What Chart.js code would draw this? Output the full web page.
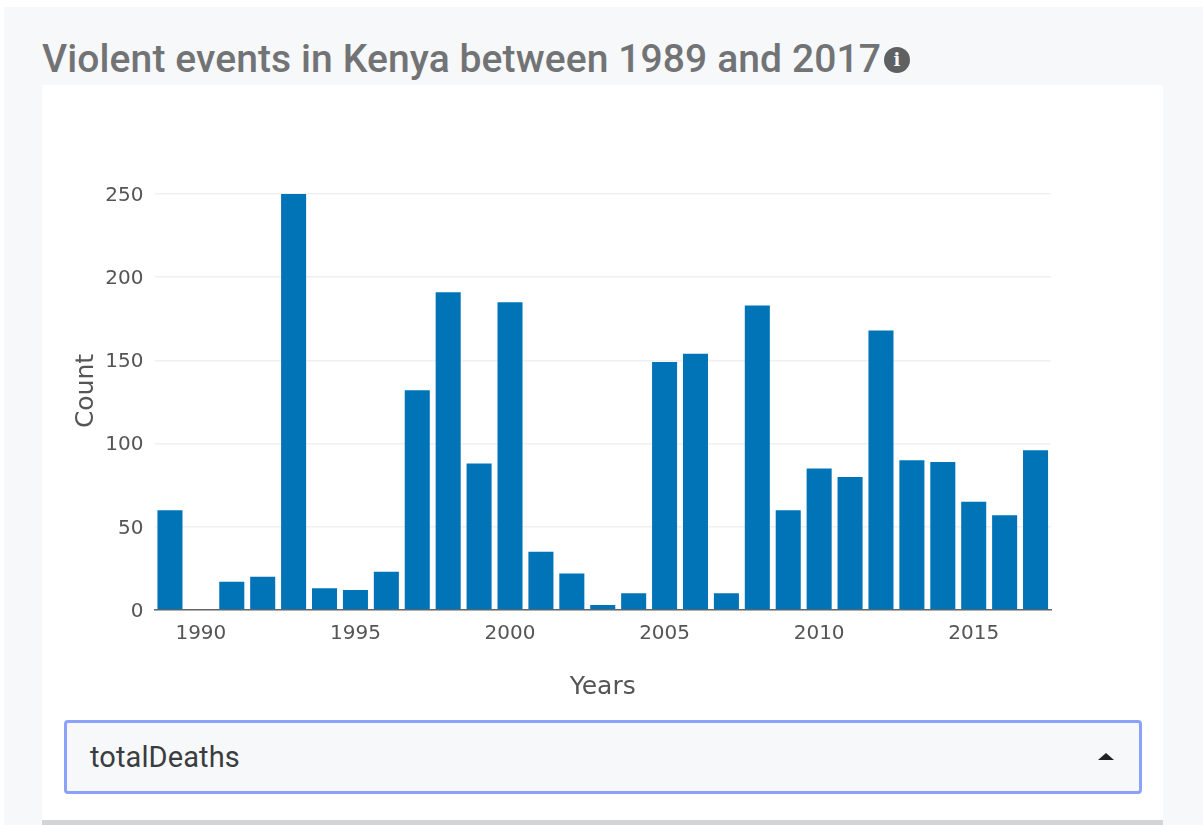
<!DOCTYPE html>
<html>
<head>
<meta charset="utf-8">
<script src="https://cdn.jsdelivr.net/npm/chart.js@4"></script>
<style>
html,body{margin:0;padding:0;width:1203px;height:825px;overflow:hidden;background:#fff;}
#panel{position:absolute;left:4px;top:7px;width:1199px;height:818px;background:#f7f8fa;}
#title{position:absolute;left:42px;top:37px;font:500 39px Roboto,sans-serif;letter-spacing:0.1px;color:#727375;white-space:nowrap;line-height:44px;}
#info{position:absolute;left:884px;top:47px;width:26px;height:26px;border-radius:50%;background:#5f6062;color:#f7f8fa;font:700 18px/26px "DejaVu Serif",serif;text-align:center;}
#card{position:absolute;left:42px;top:85px;width:1121px;height:735px;background:#fff;border-bottom:5px solid #d3d4d6;}
#wrap{position:absolute;left:42px;top:85px;width:1121px;height:630px;}
#select{position:absolute;left:64px;top:720px;width:1072px;height:68px;border:3px solid #8aa2fb;border-radius:4px;background:#f7f8fa;font:29px Roboto,sans-serif;letter-spacing:0.1px;color:#3a3d40;line-height:68px;text-indent:23px;}
#caret{position:absolute;left:1098px;top:753px;width:0;height:0;border-left:8px solid transparent;border-right:8px solid transparent;border-bottom:7px solid #222;}
</style>
</head>
<body>
<div id="panel"></div>
<div id="title">Violent events in Kenya between 1989 and 2017</div>
<div id="info">i</div>
<div id="card"></div>
<div id="wrap"><canvas id="c" width="1121" height="630"></canvas></div>
<div id="select">totalDeaths</div>
<div id="caret"></div>
<script>
const years = [1989,1990,1991,1992,1993,1994,1995,1996,1997,1998,1999,2000,2001,2002,2003,2004,2005,2006,2007,2008,2009,2010,2011,2012,2013,2014,2015,2016,2017];
const totalDeaths = [60,0,17,20,250,13,12,23,132,191,88,185,35,22,3,10,149,154,10,183,60,85,80,168,90,89,65,57,96];
const shownYears = [1990,1995,2000,2005,2010,2015];
const yTicks = [0,50,100,150,200,250];
const tickFont = {family:'"DejaVu Sans"',size:20};
const titleFont = {family:'"DejaVu Sans"',size:25};

// Nudge the native y axis title and labels to where the reference has them.
const nudgeYAxis = {
  id:'nudgeYAxis',
  afterLayout(chart){
    const s = chart.scales.y;
    if(s._nudged) return;
    const wrap = (name,dy)=>{
      const orig = s[name].bind(s);
      s[name] = function(area){
        chart.ctx.save();
        chart.ctx.translate(0,dy);
        orig(area);
        chart.ctx.restore();
      };
    };
    wrap('drawTitle',-11);
    wrap('drawLabels',1.5);
    s._nudged = true;
  }
};

new Chart(document.getElementById('c'),{
  type:'bar',
  data:{labels:years,datasets:[{label:'totalDeaths',data:totalDeaths,backgroundColor:'#0174b8',borderWidth:0,categoryPercentage:1,barPercentage:0.81}]},
  plugins:[nudgeYAxis],
  options:{
    responsive:false,animation:false,
    layout:{padding:{top:109,right:112,bottom:0,left:0}},
    plugins:{legend:{display:false},tooltip:{enabled:false},title:{display:false}},
    scales:{
      x:{
        type:'category',
        afterFit(s){s.height=105;},
        grid:{display:false,drawTicks:false},
        border:{display:true,color:'#666',width:1.5},
        ticks:{autoSkip:false,maxRotation:0,minRotation:0,padding:12,color:'#555',font:tickFont,
          callback(v){const y=this.getLabelForValue(v);return shownYears.includes(+y)?String(y):'';}},
        title:{display:true,text:'Years',color:'#555',font:titleFont,padding:{top:0,bottom:13}}
      },
      y:{
        min:0,max:250,
        afterFit(s){s.width=112.5;},
        afterBuildTicks(s){s.ticks=yTicks.map(v=>({value:v}));},
        grid:{color:'#f0f0f0',lineWidth:1.5,drawTicks:false},
        border:{display:false},
        ticks:{padding:11,color:'#555',font:tickFont},
        title:{display:true,text:'Count',color:'#555',font:titleFont,padding:{top:29.5,bottom:0}}
      }
    }
  }
});
</script>
</body>
</html>
